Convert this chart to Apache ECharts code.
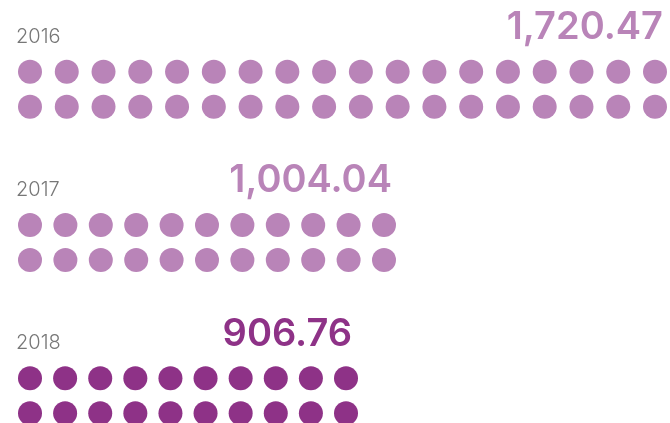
<!DOCTYPE html>
<html>
<head>
<meta charset="utf-8">
<script src="https://cdn.jsdelivr.net/npm/echarts@6/dist/echarts.min.js"></script>
<style>
html, body { margin: 0; padding: 0; background: #fff; }
#container { width: 670px; height: 423px; }
</style>
</head>
<body>
<div id="container"></div>
<script>
var years = ['2016', '2017', '2018'];
var amounts = ['1,720.47', '1,004.04', '906.76'];
var dotCounts = [18, 11, 10];
var dotRows = 2;
var colors = ['#b984b8', '#b984b8', '#8e3287'];

// where each year block sits
var gridTops = [71.7, 225, 378.3];
var gridWidths = [625, 354, 316];
var amountRight = [7, 278, 318];

var dom = document.getElementById("container");
var myChart = echarts.init(dom);

var grids = [], xAxes = [], yAxes = [], series = [], titles = [];
for (var k = 0; k < years.length; k++) {
	grids.push({ left: 30, top: gridTops[k], width: gridWidths[k], height: 35 });
	xAxes.push({ type: 'value', gridIndex: k, min: 0, max: dotCounts[k] - 1, show: false });
	yAxes.push({ type: 'value', gridIndex: k, min: 0, max: dotRows - 1, inverse: true, show: false });
	var pts = [];
	for (var r = 0; r < dotRows; r++) {
		for (var i = 0; i < dotCounts[k]; i++) {
			pts.push([i, r]);
		}
	}
	series.push({
		type: 'scatter',
		xAxisIndex: k,
		yAxisIndex: k,
		symbol: 'circle',
		symbolSize: 24,
		itemStyle: { color: colors[k], opacity: 1 },
		silent: true,
		data: pts
	});
	titles.push({
		text: years[k],
		left: 16,
		top: gridTops[k] - 45,
		padding: 0,
		textStyle: { fontFamily: 'Inter', fontWeight: 300, fontSize: 20, color: '#777' }
	});
	titles.push({
		text: amounts[k],
		right: amountRight[k],
		top: gridTops[k] - 63,
		padding: 0,
		textStyle: { fontFamily: 'Inter', fontWeight: 600, fontSize: 38, color: colors[k] }
	});
}

var option = {
	animation: false,
	title: titles,
	grid: grids,
	xAxis: xAxes,
	yAxis: yAxes,
	series: series
};
myChart.setOption(option, true);
</script>
</body>
</html>
